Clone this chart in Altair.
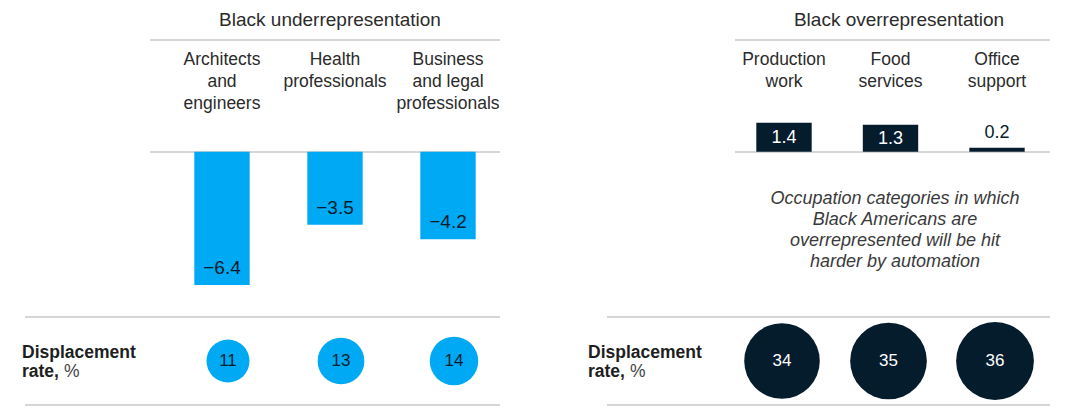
import altair as alt
import pandas as pd

FONT = "Liberation Sans"
BLUE = "#00A9F4"
NAVY = "#051C2C"
LINE = "#C9C9C9"
TEXT = "#2B2B2B"

# ---- data ----
group_titles = ["Black underrepresentation", "Black overrepresentation"]

under_cats = ["Architects\nand\nengineers", "Health\nprofessionals", "Business\nand legal\nprofessionals"]
under_gap = [-6.4, -3.5, -4.2]
under_disp = [11, 13, 14]

over_cats = ["Production\nwork", "Food\nservices", "Office\nsupport"]
over_gap = [1.4, 1.3, 0.2]
over_disp = [34, 35, 36]

row_label_1 = "Displacement"
row_label_2 = "rate,"
row_label_3 = "%"
note = "Occupation categories in which\nBlack Americans are\noverrepresented will be hit\nharder by automation"

# ---- helpers ----
H = 415
Y_SCALE = alt.Scale(domain=[-12.65, 7.3], nice=False, zero=False)
SIZE_SCALE = alt.Scale(domain=[0, 36], range=[0, 6050])
dummy = pd.DataFrame({"d": [0]})


def fmt(v):
    return f"{v:.1f}".replace("-", "\u2212")


def hrule(x1, x2, y):
    return alt.Chart(dummy).mark_rule(color=LINE, strokeWidth=1.5).encode(
        x=alt.value(x1), x2=alt.value(x2), y=alt.value(y))


def label(text, x, y, **kw):
    opts = dict(font=FONT, fontSize=17.5, color=TEXT, baseline="middle")
    opts.update(kw)
    return alt.Chart(dummy).mark_text(**opts).encode(
        x=alt.value(x), y=alt.value(y), text=alt.value(text))


def row_label(x):
    return [
        label(row_label_1, x, 353, align="left", fontWeight="bold", color="#1E1E1E"),
        label(row_label_2, x, 372, align="left", fontWeight="bold", color="#1E1E1E"),
        label(row_label_3, x + 42, 372, align="left", color="#444444"),
    ]


def panel(cats, gaps, disp, title, width, rng, pin, title_x, top_line, bottom_line, lab_x,
          bar_color, circ_text_color, circ_dx, extra=None):
    df = pd.DataFrame({"cat": cats, "gap": gaps, "disp": disp})
    df["gap_label"] = [fmt(v) for v in gaps]
    df["mid"] = [v / 2 for v in gaps]
    x = alt.X("cat:N", sort=cats, axis=None,
              scale=alt.Scale(type="band", range=rng, paddingInner=pin, paddingOuter=pin / 2))
    base = alt.Chart(df).encode(x=x)
    bars = base.mark_bar(color=bar_color).encode(
        y=alt.Y("gap:Q", axis=None, scale=Y_SCALE), y2=alt.datum(0))
    cat_labels = base.mark_text(font=FONT, fontSize=17.5, color=TEXT, baseline="top",
                                lineBreak="\n", lineHeight=22).encode(
        y=alt.value(51), text="cat:N")
    circles = base.mark_circle(color=bar_color, opacity=1, xOffset=circ_dx).encode(
        y=alt.value(361), size=alt.Size("disp:Q", scale=SIZE_SCALE, legend=None))
    circ_labels = base.mark_text(font=FONT, fontSize=17, color=circ_text_color,
                                 baseline="middle", xOffset=circ_dx).encode(
        y=alt.value(361), text="disp:N")
    layers = [
        hrule(top_line[0], top_line[1], 40),
        hrule(top_line[0], top_line[1], 152),
        hrule(bottom_line[0], bottom_line[1], 317),
        hrule(bottom_line[0], bottom_line[1], 405),
        label(title, title_x, 20, align="center", fontSize=19),
        bars, cat_labels, circles, circ_labels,
    ] + row_label(lab_x)
    if extra is not None:
        layers += extra(base)
    return alt.layer(*layers).properties(width=width, height=H)


def under_labels(base):
    return [base.mark_text(font=FONT, fontSize=19, color=NAVY, baseline="middle", dy=-17).encode(
        y=alt.Y("gap:Q", axis=None, scale=Y_SCALE), text="gap_label:N")]


def over_labels(base):
    inside = base.transform_filter("datum.gap > 0.5").mark_text(
        font=FONT, fontSize=18, color="white", baseline="middle", dy=1).encode(
        y=alt.Y("mid:Q", axis=None, scale=Y_SCALE), text="gap_label:N")
    above = base.transform_filter("datum.gap <= 0.5").mark_text(
        font=FONT, fontSize=18, color=NAVY, baseline="bottom", dy=-6).encode(
        y=alt.Y("gap:Q", axis=None, scale=Y_SCALE), text="gap_label:N")
    note_txt = label(note, 365, 190, align="center", baseline="top", fontStyle="italic",
                     fontSize=18, color="#3A3A3A", lineBreak="\n", lineHeight=21)
    return [inside, above, note_txt]


left = panel(under_cats, under_gap, under_disp, group_titles[0], 530,
             [165.5, 504.5], 0.51, 330, (150, 500), (25, 500), 22,
             BLUE, NAVY, 6, under_labels)
right = panel(over_cats, over_gap, over_disp, group_titles[1], 537,
              [200.75, 520.25], 0.48, 369, (205, 520), (77, 520), 58,
              NAVY, "white", -2, over_labels)

chart = (
    alt.hconcat(left, right, spacing=0)
    .resolve_scale(x="independent", y="independent", size="independent")
    .properties(padding=0, background="white")
    .configure_view(strokeWidth=0)
)

chart.save("out.html", embed_options={"renderer": "svg", "actions": False})
